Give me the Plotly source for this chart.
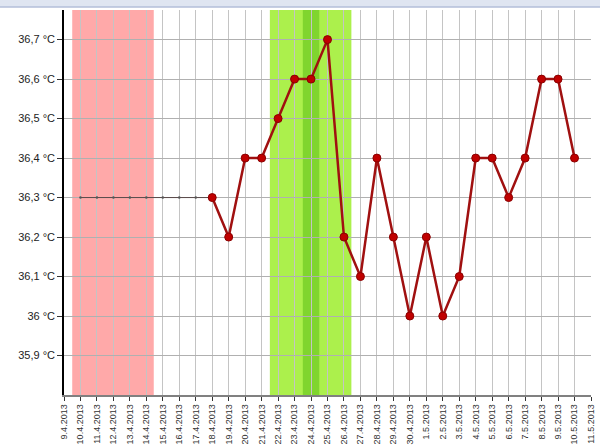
import plotly.graph_objects as go

# Day labels (x categories)
dates = ["9.4.2013", "10.4.2013", "11.4.2013", "12.4.2013", "13.4.2013", "14.4.2013",
         "15.4.2013", "16.4.2013", "17.4.2013", "18.4.2013", "19.4.2013", "20.4.2013",
         "21.4.2013", "22.4.2013", "23.4.2013", "24.4.2013", "25.4.2013", "26.4.2013",
         "27.4.2013", "28.4.2013", "29.4.2013", "30.4.2013", "1.5.2013", "2.5.2013",
         "3.5.2013", "4.5.2013", "5.5.2013", "6.5.2013", "7.5.2013", "8.5.2013",
         "9.5.2013", "10.5.2013", "11.5.2013"]

# Measured temperatures (18.4 .. 10.5)
temp_dates = ["18.4.2013", "19.4.2013", "20.4.2013", "21.4.2013", "22.4.2013", "23.4.2013",
              "24.4.2013", "25.4.2013", "26.4.2013", "27.4.2013", "28.4.2013", "29.4.2013",
              "30.4.2013", "1.5.2013", "2.5.2013", "3.5.2013", "4.5.2013", "5.5.2013",
              "6.5.2013", "7.5.2013", "8.5.2013", "9.5.2013", "10.5.2013"]
temps = [36.3, 36.2, 36.4, 36.4, 36.5, 36.6, 36.6, 36.7, 36.2, 36.1, 36.4, 36.2,
         36.0, 36.2, 36.0, 36.1, 36.4, 36.4, 36.3, 36.4, 36.6, 36.6, 36.4]

# Dotted baseline (10.4 .. 18.4)
base_dates = ["10.4.2013", "11.4.2013", "12.4.2013", "13.4.2013", "14.4.2013",
              "15.4.2013", "16.4.2013", "17.4.2013", "18.4.2013"]
base_vals = [36.3, 36.3, 36.3, 36.3, 36.3, 36.3, 36.3, 36.3, 36.3]

# Y tick labels
y_ticks = [35.9, 36.0, 36.1, 36.2, 36.3, 36.4, 36.5, 36.6, 36.7]
y_labels = ["35,9 °C", "36 °C", "36,1 °C", "36,2 °C", "36,3 °C", "36,4 °C", "36,5 °C", "36,6 °C", "36,7 °C"]

# Highlighted periods (start date, end date)
period_red = ("10.4.2013", "14.4.2013")
period_green = ("22.4.2013", "26.4.2013")
period_dark = ("24.4.2013", "24.4.2013")

idx = {d: i for i, d in enumerate(dates)}

fig = go.Figure()

fig.add_trace(go.Scatter(
    x=[idx[d] for d in base_dates], y=base_vals, mode="lines+markers",
    line=dict(color="#5a4a4a", width=1), marker=dict(size=2.5, color="#555"),
    hoverinfo="skip", showlegend=False))

fig.add_trace(go.Scatter(
    x=[idx[d] for d in temp_dates], y=temps, mode="lines+markers",
    line=dict(color="#a01010", width=2.5),
    marker=dict(size=8, color="#c00000", line=dict(color="#8a0000", width=1)),
    showlegend=False))

PW, PH = 527, 385
shapes = [
    dict(type="rect", xref="x", yref="paper", x0=idx[period_red[0]] - 0.5, x1=idx[period_red[1]] + 0.45,
         y0=0, y1=1, fillcolor="#ffa9a9", line=dict(width=0), layer="below"),
    dict(type="rect", xref="x", yref="paper", x0=idx[period_green[0]] - 0.5, x1=idx[period_green[1]] + 0.45,
         y0=0, y1=1, fillcolor="#acf04c", line=dict(width=0), layer="below"),
    dict(type="rect", xref="x", yref="paper", x0=idx[period_dark[0]] - 0.5, x1=idx[period_dark[1]] + 0.5,
         y0=0, y1=1, fillcolor="#80d52e", line=dict(width=0), layer="below"),
    # window header strip
    dict(type="rect", xref="paper", yref="paper", x0=-64 / PW, x1=1 + 9 / PW,
         y0=1 + 3 / PH, y1=1 + 10 / PH, fillcolor="#dfe5f1", line=dict(width=0), layer="above"),
    dict(type="line", xref="paper", yref="paper", x0=-64 / PW, x1=1 + 9 / PW,
         y0=1 + 3 / PH, y1=1 + 3 / PH, line=dict(color="#b3bed8", width=1.5), layer="above"),
]

fig.update_layout(
    width=600, height=448,
    margin=dict(l=64, r=9, t=10, b=53, autoexpand=False),
    paper_bgcolor="white", plot_bgcolor="white",
    shapes=shapes,
    font=dict(family="Liberation Sans, Arial, sans-serif", color="#222"),
    xaxis=dict(
        range=[0, 32], tickmode="array", tickvals=list(range(len(dates))), ticktext=dates,
        tickangle=-90, tickfont=dict(size=9, color="#333"), automargin=False,
        showgrid=True, gridcolor="#c4c4c4", gridwidth=1,
        showline=True, linecolor="#808080", linewidth=1.5,
        ticks="outside", ticklen=4, tickcolor="#333", zeroline=False,
    ),
    yaxis=dict(
        range=[35.8, 36.775], tickmode="array", tickvals=y_ticks, ticktext=y_labels,
        tickfont=dict(size=11, color="#222"), automargin=False,
        showgrid=True, gridcolor="#b0b0b0", gridwidth=1,
        showline=True, linecolor="black", linewidth=1.5,
        ticks="outside", ticklen=5, tickcolor="#333", zeroline=False,
    ),
)

fig.write_html("out.html", config={"displayModeBar": False},
               post_script="document.body.style.margin='0';document.body.style.overflow='hidden';")
